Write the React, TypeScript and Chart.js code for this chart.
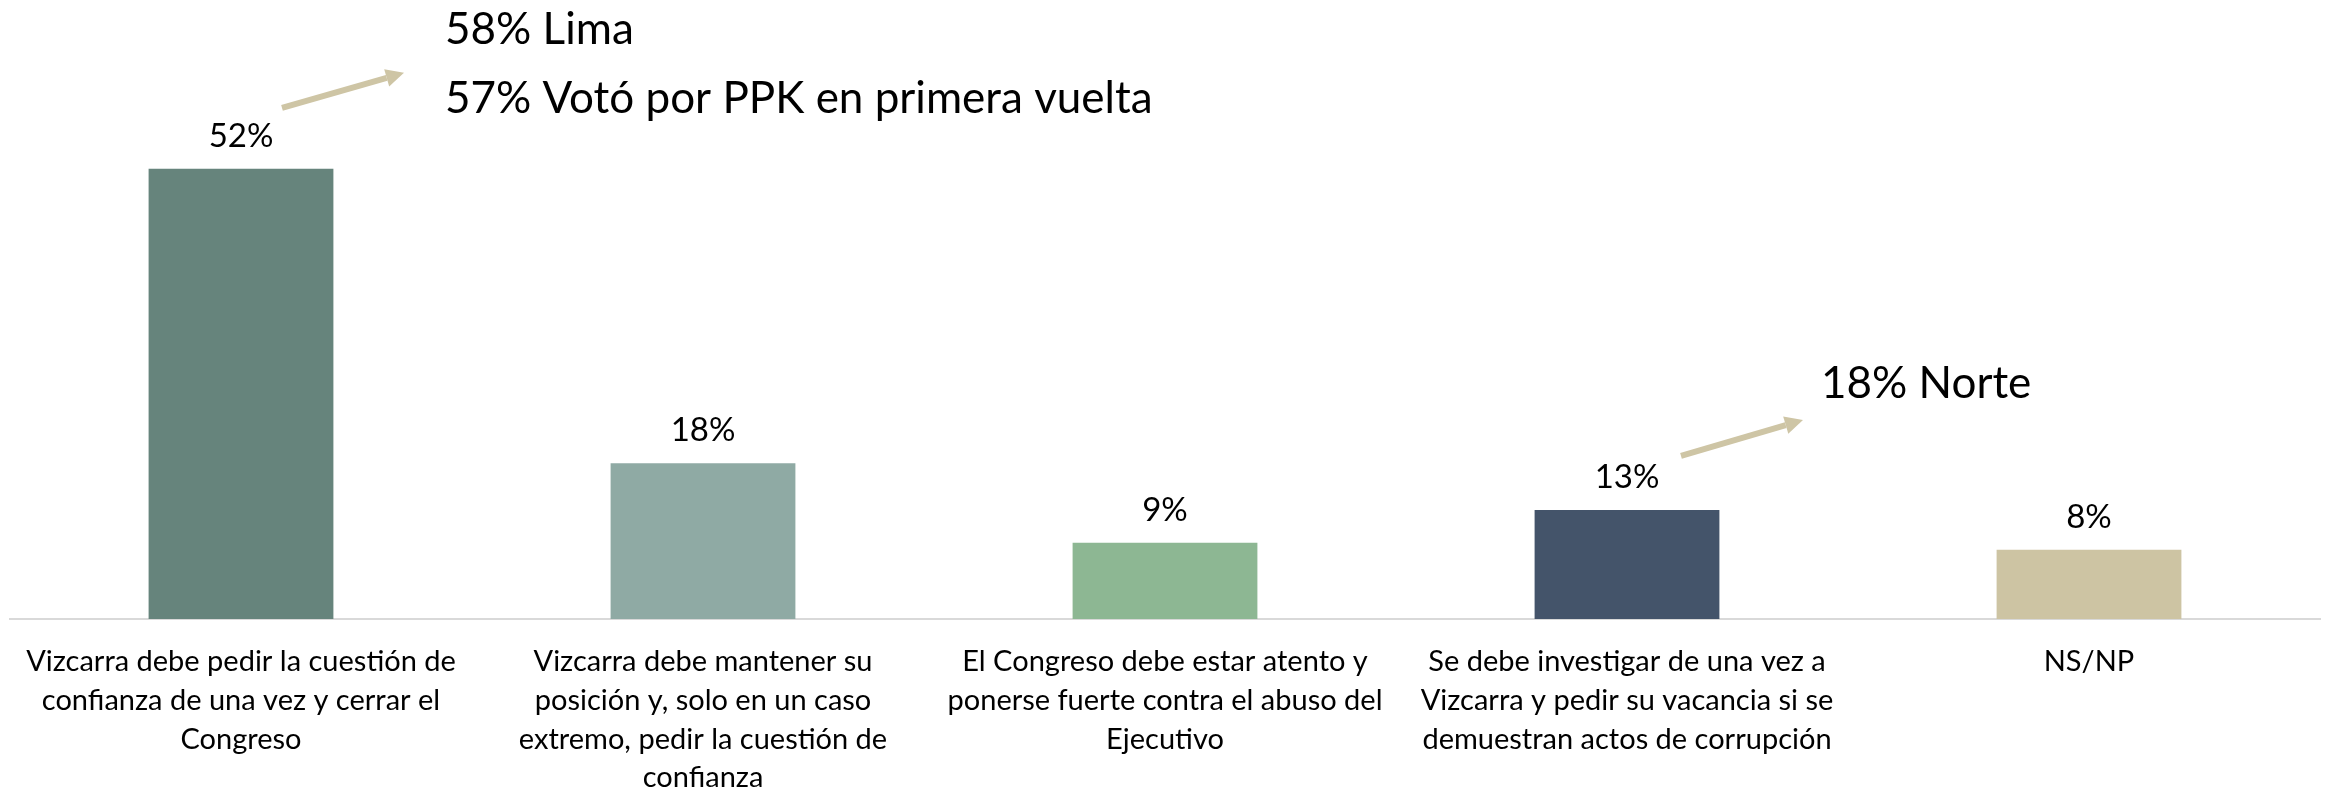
import { useEffect, useRef } from "react";
import { Chart, registerables } from "chart.js";

Chart.register(...registerables);

const categories: string[][] = [
  ["Vizcarra debe pedir la cuestión de", "confianza de una vez y cerrar el", "Congreso"],
  ["Vizcarra debe mantener su", "posición y, solo en un caso", "extremo, pedir la cuestión de", "confianza"],
  ["El Congreso debe estar atento y", "ponerse fuerte contra el abuso del", "Ejecutivo"],
  ["Se debe investigar de una vez a", "Vizcarra y pedir su vacancia si se", "demuestran actos de corrupción"],
  ["NS/NP"],
];
const values = [52, 18, 8.8, 12.6, 8];
const valueLabels = ["52%", "18%", "9%", "13%", "8%"];
const barColors = ["#66847C", "#8FAAA4", "#8DB793", "#44546A", "#CDC4A3"];
const calloutBars = [0, 3];
const calloutTexts: string[][] = [
  ["58% Lima", "57% Votó por PPK en primera vuelta"],
  ["18% Norte"],
];

const FONT = "Lato, 'Open Sans', sans-serif";

function drawArrow(ctx: CanvasRenderingContext2D, x1: number, y1: number, x2: number, y2: number) {
  const ang = Math.atan2(y2 - y1, x2 - x1);
  const head = 18;
  const hw = 9;
  const bx = x2 - head * Math.cos(ang);
  const by = y2 - head * Math.sin(ang);
  ctx.save();
  ctx.strokeStyle = "#CEC5A5";
  ctx.fillStyle = "#CEC5A5";
  ctx.lineWidth = 6;
  ctx.beginPath();
  ctx.moveTo(x1, y1);
  ctx.lineTo(bx, by);
  ctx.stroke();
  ctx.beginPath();
  ctx.moveTo(x2, y2);
  ctx.lineTo(bx + hw * Math.sin(ang), by - hw * Math.cos(ang));
  ctx.lineTo(bx - hw * Math.sin(ang), by + hw * Math.cos(ang));
  ctx.closePath();
  ctx.fill();
  ctx.restore();
}

const labelsPlugin = {
  id: "labelsPlugin",
  afterDatasetsDraw(chart: any) {
    const ctx = chart.ctx as CanvasRenderingContext2D;
    const meta = chart.getDatasetMeta(0);
    ctx.save();
    ctx.fillStyle = "#000000";
    ctx.font = `33px ${FONT}`;
    ctx.textAlign = "center";
    ctx.textBaseline = "alphabetic";
    meta.data.forEach((bar: any, i: number) => {
      ctx.fillText(valueLabels[i], bar.x, bar.y - 22);
    });
    calloutBars.forEach((bi, k) => {
      const bar = meta.data[bi];
      const lines = calloutTexts[k];
      ctx.font = `44px ${FONT}`;
      ctx.textAlign = "left";
      ctx.textBaseline = "middle";
      if (k === 0) {
        drawArrow(ctx, bar.x + 41, bar.y - 61, bar.x + 163, bar.y - 96);
        ctx.fillText(lines[0], bar.x + 204, bar.y - 139);
        ctx.fillText(lines[1], bar.x + 204, bar.y - 70);
      } else {
        drawArrow(ctx, bar.x + 54, bar.y - 54, bar.x + 176, bar.y - 90);
        ctx.fillText(lines[0], bar.x + 194, bar.y - 126);
      }
    });
    ctx.restore();
  },
};

export default function App() {
  const ref = useRef<HTMLCanvasElement | null>(null);
  useEffect(() => {
    if (!ref.current) return;
    const chart = new Chart(ref.current, {
      type: "bar",
      data: {
        labels: categories,
        datasets: [
          {
            data: values,
            backgroundColor: barColors,
            barPercentage: 0.4,
            categoryPercentage: 1,
          },
        ],
      },
      options: {
        animation: false,
        responsive: false,
        maintainAspectRatio: false,
        layout: { padding: { left: 10, right: 6, top: 0, bottom: 0 } },
        plugins: { legend: { display: false }, tooltip: { enabled: false } },
        scales: {
          x: {
            grid: { display: false, drawTicks: false },
            border: { display: true, color: "#D9D9D9", width: 2 },
            ticks: {
              autoSkip: false,
              maxRotation: 0,
              minRotation: 0,
              padding: 23,
              color: "#000000",
              font: { family: FONT, size: 29, lineHeight: 1.34 },
            },
            afterFit: (s: any) => {
              s.height = 172;
            },
          },
          y: {
            display: false,
            min: 0,
            max: 71.5,
          },
        },
      },
      plugins: [labelsPlugin],
    });
    return () => chart.destroy();
  }, []);
  return (
    <div style={{ position: "fixed", left: 0, top: 0, width: 2326, height: 791, background: "#fff" }}>
      <canvas ref={ref} width={2326} height={791} style={{ width: 2326, height: 791 }} />
    </div>
  );
}
